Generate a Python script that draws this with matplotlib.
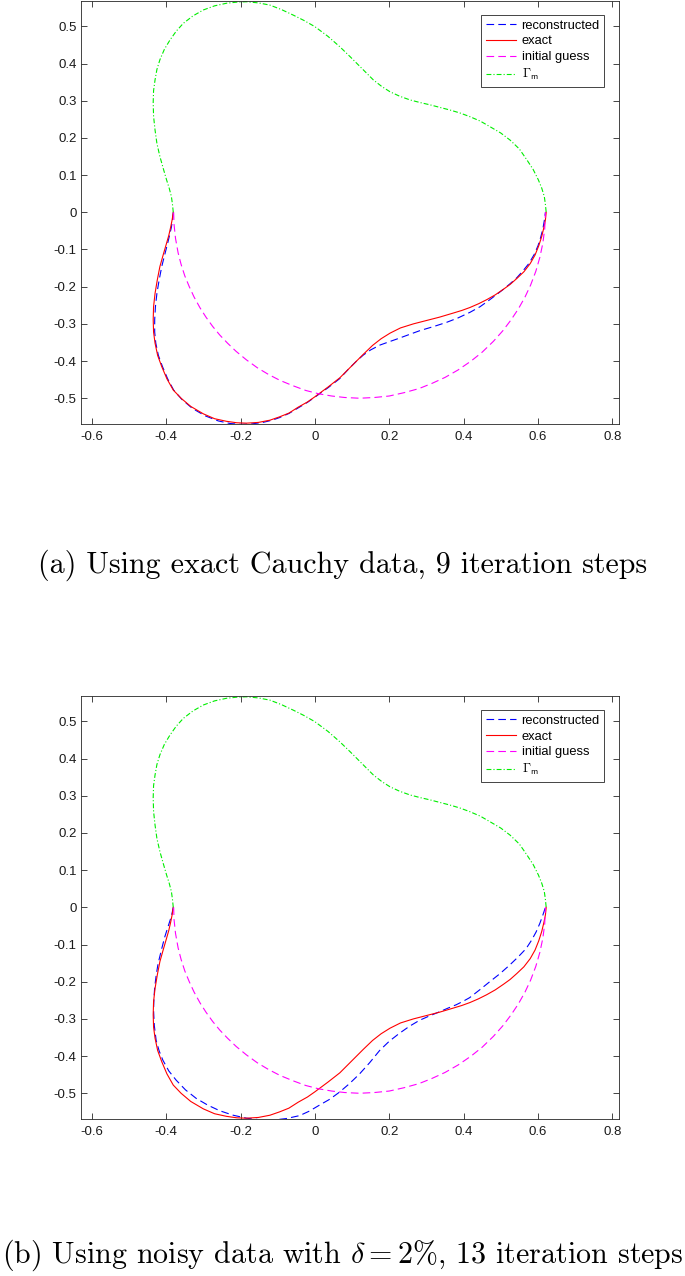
import matplotlib
matplotlib.use("Agg")
import matplotlib.pyplot as plt

# Curves (x, y pairs along each curve)
# measured boundary part Gamma_m (upper half)
gamma_x = [-0.381, -0.383, -0.386, -0.392, -0.399, -0.408, -0.417, -0.425, -0.430, -0.434,
           -0.435, -0.434, -0.430, -0.425, -0.417, -0.405, -0.390, -0.373, -0.354, -0.328,
           -0.300, -0.270, -0.238, -0.210, -0.184, -0.152, -0.121, -0.090, -0.058, -0.030,
           0.000, 0.035, 0.067, 0.095, 0.121, 0.140, 0.157, 0.180, 0.202, 0.228,
           0.256, 0.283, 0.309, 0.336, 0.363, 0.390, 0.417, 0.445, 0.471, 0.500,
           0.525, 0.550, 0.570, 0.587, 0.601, 0.610, 0.617, 0.620, 0.622]
gamma_y = [0.000, 0.020, 0.042, 0.065, 0.087, 0.118, 0.150, 0.185, 0.221, 0.258,
           0.295, 0.327, 0.356, 0.384, 0.410, 0.438, 0.463, 0.487, 0.508, 0.528,
           0.544, 0.555, 0.562, 0.565, 0.566, 0.563, 0.557, 0.545, 0.530, 0.516,
           0.499, 0.473, 0.445, 0.418, 0.392, 0.373, 0.356, 0.338, 0.324, 0.312,
           0.302, 0.295, 0.289, 0.282, 0.275, 0.267, 0.257, 0.245, 0.230, 0.213,
           0.194, 0.170, 0.141, 0.115, 0.087, 0.065, 0.042, 0.020, 0.000]

# exact boundary (lower half)
exact_x = [-0.381, -0.384, -0.388, -0.393, -0.399, -0.408, -0.417, -0.424, -0.430, -0.434,
           -0.435, -0.434, -0.430, -0.423, -0.412, -0.398, -0.381, -0.360, -0.334, -0.300,
           -0.270, -0.238, -0.210, -0.184, -0.152, -0.121, -0.095, -0.070, -0.045, -0.020,
           0.000, 0.035, 0.067, 0.100, 0.130, 0.155, 0.178, 0.202, 0.230, 0.265,
           0.300, 0.335, 0.372, 0.395, 0.417, 0.440, 0.462, 0.485, 0.507, 0.525,
           0.543, 0.562, 0.579, 0.592, 0.602, 0.610, 0.616, 0.620, 0.622]
exact_y = [0.000, -0.020, -0.040, -0.062, -0.083, -0.114, -0.146, -0.182, -0.218, -0.254,
           -0.289, -0.322, -0.352, -0.385, -0.415, -0.448, -0.478, -0.500, -0.522, -0.542,
           -0.555, -0.562, -0.566, -0.567, -0.565, -0.559, -0.550, -0.540, -0.524, -0.510,
           -0.496, -0.470, -0.445, -0.412, -0.382, -0.358, -0.340, -0.325, -0.311, -0.300,
           -0.291, -0.282, -0.271, -0.264, -0.256, -0.246, -0.235, -0.222, -0.207, -0.194,
           -0.178, -0.160, -0.138, -0.115, -0.090, -0.065, -0.040, -0.020, 0.000]

# initial guess
guess_x = [-0.380, -0.379, -0.375, -0.368, -0.360, -0.350, -0.338, -0.325, -0.309, -0.293,
           -0.275, -0.256, -0.235, -0.212, -0.184, -0.155, -0.125, -0.094, -0.060, -0.025,
           0.010, 0.045, 0.080, 0.120, 0.160, 0.200, 0.240, 0.280, 0.315, 0.350,
           0.385, 0.420, 0.450, 0.480, 0.505, 0.527, 0.547, 0.565, 0.580, 0.594,
           0.605, 0.613, 0.618, 0.620]
guess_y = [0.000, -0.032, -0.070, -0.109, -0.140, -0.171, -0.200, -0.228, -0.257, -0.282,
           -0.307, -0.330, -0.352, -0.374, -0.397, -0.418, -0.436, -0.452, -0.466, -0.479,
           -0.488, -0.494, -0.498, -0.500, -0.498, -0.494, -0.485, -0.474, -0.460, -0.444,
           -0.424, -0.400, -0.376, -0.347, -0.319, -0.290, -0.260, -0.228, -0.196, -0.159,
           -0.121, -0.083, -0.045, 0.000]

# reconstruction with exact data (a)
recon_a_x = [-0.381, -0.383, -0.386, -0.391, -0.396, -0.404, -0.412, -0.419, -0.425, -0.429,
             -0.431, -0.431, -0.428, -0.421, -0.410, -0.396, -0.380, -0.358, -0.330, -0.296,
             -0.260, -0.228, -0.200, -0.170, -0.140, -0.115, -0.095, -0.070, -0.045, -0.020,
             0.000, 0.035, 0.067, 0.090, 0.112, 0.130, 0.150, 0.175, 0.200, 0.220,
             0.250, 0.283, 0.320, 0.354, 0.385, 0.417, 0.444, 0.465, 0.485, 0.507,
             0.525, 0.543, 0.560, 0.576, 0.590, 0.600, 0.607, 0.613, 0.617, 0.620]
recon_a_y = [0.000, -0.020, -0.040, -0.062, -0.083, -0.114, -0.146, -0.182, -0.218, -0.254,
             -0.289, -0.322, -0.352, -0.385, -0.415, -0.448, -0.478, -0.503, -0.527, -0.547,
             -0.561, -0.568, -0.570, -0.569, -0.565, -0.559, -0.552, -0.541, -0.526, -0.511,
             -0.497, -0.472, -0.447, -0.422, -0.400, -0.384, -0.370, -0.357, -0.348, -0.341,
             -0.330, -0.318, -0.307, -0.296, -0.284, -0.269, -0.254, -0.239, -0.224, -0.207,
             -0.192, -0.176, -0.157, -0.137, -0.113, -0.090, -0.068, -0.045, -0.022, 0.000]

# reconstruction with noisy data (b)
recon_b_x = [-0.381, -0.384, -0.388, -0.396, -0.404, -0.413, -0.422, -0.427, -0.431, -0.433,
             -0.434, -0.432, -0.427, -0.419, -0.409, -0.393, -0.373, -0.348, -0.319, -0.288,
             -0.256, -0.220, -0.184, -0.150, -0.113, -0.077, -0.041, -0.015, 0.012, 0.040,
             0.066, 0.093, 0.120, 0.147, 0.174, 0.200, 0.227, 0.254, 0.281, 0.308,
             0.335, 0.358, 0.380, 0.398, 0.416, 0.443, 0.469, 0.497, 0.523, 0.547,
             0.568, 0.583, 0.595, 0.605, 0.613, 0.620]
recon_b_y = [0.000, -0.015, -0.030, -0.055, -0.080, -0.115, -0.152, -0.183, -0.215, -0.246,
             -0.277, -0.318, -0.358, -0.386, -0.411, -0.440, -0.465, -0.491, -0.514, -0.532,
             -0.547, -0.559, -0.567, -0.571, -0.572, -0.568, -0.560, -0.548, -0.532, -0.516,
             -0.497, -0.474, -0.448, -0.418, -0.385, -0.360, -0.339, -0.320, -0.304, -0.292,
             -0.281, -0.271, -0.262, -0.253, -0.243, -0.222, -0.201, -0.179, -0.156, -0.133,
             -0.111, -0.088, -0.066, -0.043, -0.021, 0.000]

x_ticks = [-0.6, -0.4, -0.2, 0, 0.2, 0.4, 0.6, 0.8]
x_tick_labels = ['-0.6', '-0.4', '-0.2', '0', '0.2', '0.4', '0.6', '0.8']
y_ticks = [-0.5, -0.4, -0.3, -0.2, -0.1, 0, 0.1, 0.2, 0.3, 0.4, 0.5]
y_tick_labels = ['-0.5', '-0.4', '-0.3', '-0.2', '-0.1', '0', '0.1', '0.2', '0.3', '0.4', '0.5']

caption_a = '(a) Using exact Cauchy data, 9 iteration steps'
caption_b = r'(b) Using noisy data with $\delta = 2\%$, 13 iteration steps'

plt.rcParams['font.family'] = 'Liberation Sans'
plt.rcParams['mathtext.fontset'] = 'cm'
plt.rcParams['axes.unicode_minus'] = False
plt.rcParams['lines.scale_dashes'] = False

AX_COLOR = '#262626'


def draw_panel(ax, recon_x, recon_y):
    ax.plot(recon_x, recon_y, color='#0000ff', lw=0.8, ls='--', dashes=(5.5, 3),
            label='reconstructed')
    ax.plot(exact_x, exact_y, color='#ff0000', lw=0.8, label='exact')
    ax.plot(guess_x, guess_y, color='#ff00ff', lw=0.8, ls='--', dashes=(5.5, 3),
            label='initial guess')
    ax.plot(gamma_x, gamma_y, color='#00ee00', lw=0.8, ls='-.',
            dashes=(3.5, 1.5, 0.8, 1.5), label=r'$\Gamma_{\mathsf{m}}$')

    ax.set_xlim(-0.63, 0.817)
    ax.set_ylim(-0.570, 0.568)
    ax.set_xticks(x_ticks)
    ax.set_xticklabels(x_tick_labels)
    ax.set_yticks(y_ticks)
    ax.set_yticklabels(y_tick_labels)
    ax.tick_params(direction='in', length=4, width=0.6, top=True, right=True,
                   labelsize=9.5, color=AX_COLOR, labelcolor='#1a1a1a')
    ax.tick_params(axis='x', pad=5)
    ax.tick_params(axis='y', pad=3)
    for sp in ax.spines.values():
        sp.set_color(AX_COLOR)
        sp.set_linewidth(0.6)

    leg = ax.legend(loc='upper right', bbox_to_anchor=(0.973, 0.967), fontsize=9.3,
                    fancybox=False, framealpha=1, edgecolor=AX_COLOR,
                    handlelength=2.3, handletextpad=0.45, labelspacing=0.3,
                    borderpad=0.35, borderaxespad=0)
    leg.get_frame().set_linewidth(0.6)


fig = plt.figure(figsize=(6.85, 12.76), dpi=100)
ax_a = fig.add_axes([0.1178, 0.6675, 0.7854, 0.3317])
ax_b = fig.add_axes([0.1178, 0.1228, 0.7854, 0.3317])

draw_panel(ax_a, recon_a_x, recon_a_y)
draw_panel(ax_b, recon_b_x, recon_b_y)

fig.text(0.5, 1 - 573 / 1276, caption_a, ha='center', va='baseline',
         fontsize=21.6, family='cmr10')
fig.text(0.5, 1 - 1263 / 1276, caption_b, ha='center', va='baseline',
         fontsize=21.6, family='cmr10')

fig.savefig('out.png', dpi=100)
